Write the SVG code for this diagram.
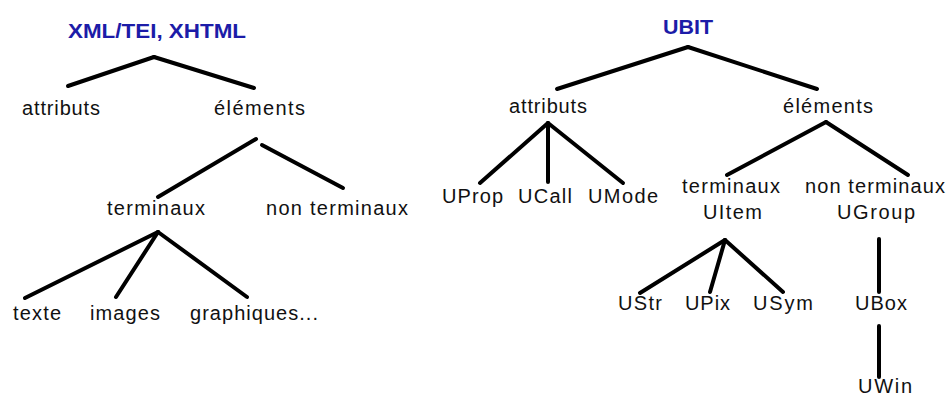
<svg xmlns="http://www.w3.org/2000/svg" width="951" height="396" viewBox="0 0 951 396">
<style>
.t{font-family:"Liberation Sans",Arial,sans-serif;font-size:20px;fill:#111}
.h{font-family:"Liberation Sans",Arial,sans-serif;font-size:21px;font-weight:bold;fill:#1c1ca8}
.c line{stroke:#000;stroke-width:4;stroke-linecap:round}
</style>
<rect width="951" height="396" fill="#fff"/>
<g id="connectors" class="c">
<line x1="154" y1="57" x2="68" y2="86"/>
<line x1="154" y1="57" x2="254" y2="88"/>
<line x1="256" y1="139" x2="158" y2="197"/>
<line x1="262" y1="145" x2="343" y2="188"/>
<line x1="158" y1="232" x2="25" y2="298"/>
<line x1="158" y1="232" x2="116" y2="297"/>
<line x1="158" y1="232" x2="247" y2="297"/>
<line x1="688" y1="47" x2="557" y2="89"/>
<line x1="688" y1="47" x2="817" y2="89"/>
<line x1="548" y1="123" x2="480" y2="183"/>
<line x1="548" y1="123" x2="548" y2="182"/>
<line x1="548" y1="123" x2="623" y2="183"/>
<line x1="826" y1="122" x2="727" y2="175"/>
<line x1="826" y1="122" x2="908" y2="175"/>
<line x1="725" y1="240" x2="640" y2="293"/>
<line x1="725" y1="240" x2="710" y2="292"/>
<line x1="725" y1="240" x2="783" y2="292"/>
<line x1="879" y1="239" x2="879" y2="292"/>
<line x1="879" y1="326" x2="879" y2="377"/>
</g>
<g id="n-xml"><text class="h" x="68" y="38" textLength="178" lengthAdjust="spacingAndGlyphs">XML/TEI, XHTML</text></g>
<g id="n-attr1"><text class="t" x="22" y="115" textLength="78" lengthAdjust="spacing">attributs</text></g>
<g id="n-elem1"><text class="t" x="214" y="115" textLength="91" lengthAdjust="spacing">éléments</text></g>
<g id="n-term1"><text class="t" x="107" y="215" textLength="98" lengthAdjust="spacing">terminaux</text></g>
<g id="n-nonterm1"><text class="t" x="266" y="215" textLength="142" lengthAdjust="spacing">non terminaux</text></g>
<g id="n-texte"><text class="t" x="13" y="320" textLength="48" lengthAdjust="spacing">texte</text></g>
<g id="n-images"><text class="t" x="90" y="320" textLength="70" lengthAdjust="spacing">images</text></g>
<g id="n-graph"><text class="t" x="190" y="320" textLength="128" lengthAdjust="spacing">graphiques...</text></g>
<g id="n-ubit"><text class="h" x="663" y="34" textLength="50" lengthAdjust="spacingAndGlyphs">UBIT</text></g>
<g id="n-attr2"><text class="t" x="509" y="113" textLength="78" lengthAdjust="spacing">attributs</text></g>
<g id="n-elem2"><text class="t" x="783" y="113" textLength="90" lengthAdjust="spacing">éléments</text></g>
<g id="n-uprop"><text class="t" x="442" y="203" textLength="61" lengthAdjust="spacing">UProp</text></g>
<g id="n-ucall"><text class="t" x="518" y="203" textLength="54" lengthAdjust="spacing">UCall</text></g>
<g id="n-umode"><text class="t" x="588" y="203" textLength="70" lengthAdjust="spacing">UMode</text></g>
<g id="n-term2"><text class="t" x="682" y="193" textLength="98" lengthAdjust="spacing">terminaux</text><text class="t" x="703" y="219" textLength="59" lengthAdjust="spacing">UItem</text></g>
<g id="n-nonterm2"><text class="t" x="805" y="193" textLength="140" lengthAdjust="spacing">non terminaux</text><text class="t" x="837" y="219" textLength="78" lengthAdjust="spacing">UGroup</text></g>
<g id="n-ustr"><text class="t" x="618" y="310" textLength="44" lengthAdjust="spacing">UStr</text></g>
<g id="n-upix"><text class="t" x="685" y="310" textLength="45" lengthAdjust="spacing">UPix</text></g>
<g id="n-usym"><text class="t" x="753" y="310" textLength="60" lengthAdjust="spacing">USym</text></g>
<g id="n-ubox"><text class="t" x="855" y="310" textLength="52" lengthAdjust="spacing">UBox</text></g>
<g id="n-uwin"><text class="t" x="858" y="393" textLength="54" lengthAdjust="spacing">UWin</text></g>
</svg>
